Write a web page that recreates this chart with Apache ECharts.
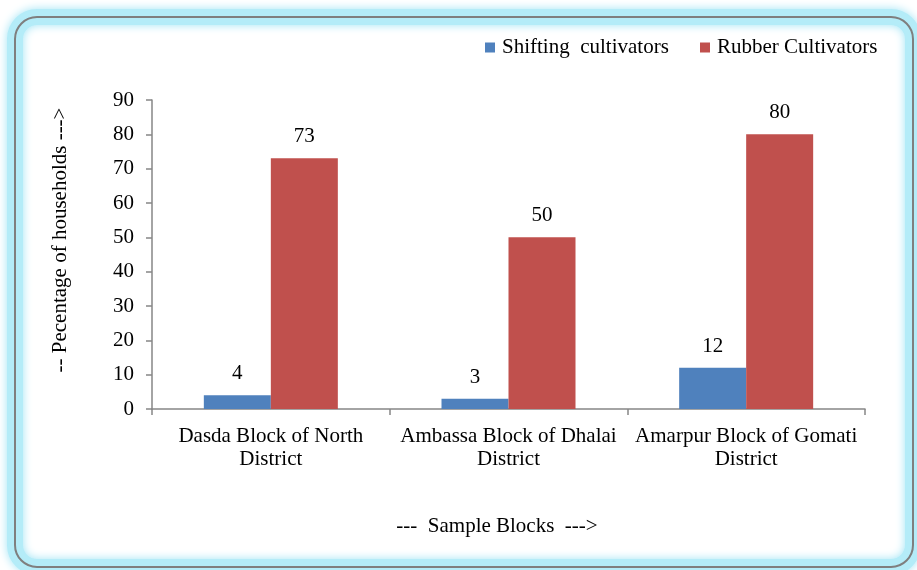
<!DOCTYPE html>
<html>
<head>
<meta charset="utf-8">
<script src="https://cdn.jsdelivr.net/npm/echarts@6/dist/echarts.min.js"></script>
<style>
  html, body { margin: 0; padding: 0; background: #ffffff; }
  #chart { width: 917px; height: 570px; }
</style>
</head>
<body>
<div id="chart"></div>
<script>
// Sample blocks surveyed
var categories = ['Dasda Block of North\nDistrict', 'Ambassa Block of Dhalai\nDistrict', 'Amarpur Block of Gomati\nDistrict'];
// Percentage of households by cultivation type
var shiftingValues = [4, 3, 12];
var rubberValues = [73, 50, 80];
var seriesNames = ['Shifting  cultivators', 'Rubber Cultivators'];
var yTicks = { min: 0, max: 90, interval: 10 };
var xTitle = '---  Sample Blocks  --->';
var yTitle = '-- Pecentage of households --->';

var font = '"Liberation Serif", "Times New Roman", serif';
var fs = 21;
var chart = echarts.init(document.getElementById('chart'));

function legendAt(left, name) {
  return {
    left: left, top: 37, padding: 0,
    itemWidth: 10, itemHeight: 10,
    icon: 'rect',
    textStyle: { fontFamily: font, fontSize: fs, color: '#000', padding: [0, 0, 0, 2] },
    data: [name]
  };
}

chart.setOption({
  animation: false,
  textStyle: { fontFamily: font, color: '#000' },
  graphic: [
    {
      type: 'rect', z: -10, silent: true,
      shape: { x: 15, y: 17, width: 898, height: 550, r: 22 },
      style: { fill: 'none', stroke: '#b4ecf8', lineWidth: 16, shadowBlur: 10, shadowColor: '#a0e4f5' }
    },
    {
      type: 'rect', z: -9, silent: true,
      shape: { x: 15, y: 17, width: 898, height: 550, r: 22 },
      style: { fill: 'none', stroke: '#7f7f7f', lineWidth: 2 }
    },
    {
      type: 'text', silent: true,
      x: 497, y: 526,
      style: { text: xTitle, font: fs + 'px ' + font, fill: '#000', align: 'center', verticalAlign: 'middle' }
    },
    {
      type: 'text', silent: true,
      x: 60, y: 240, rotation: Math.PI / 2,
      style: { text: yTitle, font: fs + 'px ' + font, fill: '#000', align: 'center', verticalAlign: 'middle' }
    }
  ],
  legend: [legendAt(485, seriesNames[0]), legendAt(700, seriesNames[1])],
  grid: { left: 152, right: 52, top: 100, bottom: 161 },
  xAxis: {
    type: 'category',
    data: categories,
    axisLine: { lineStyle: { color: '#868686', width: 1.5 } },
    axisTick: { show: true, length: 6, lineStyle: { color: '#868686', width: 1.5 } },
    axisLabel: { fontFamily: font, fontSize: fs, color: '#000', margin: 16, lineHeight: 23, interval: 0 }
  },
  yAxis: {
    type: 'value',
    min: yTicks.min, max: yTicks.max, interval: yTicks.interval,
    axisLine: { show: true, lineStyle: { color: '#868686', width: 1.5 } },
    axisTick: { show: true, inside: false, length: 6, lineStyle: { color: '#868686', width: 1.5 } },
    axisLabel: { fontFamily: font, fontSize: fs, color: '#000', margin: 18 },
    splitLine: { show: false }
  },
  series: [
    {
      name: seriesNames[0], type: 'bar', data: shiftingValues,
      barWidth: 67, barGap: '0%',
      itemStyle: { color: '#4f81bd' },
      label: { show: true, position: 'top', distance: 11, fontFamily: font, fontSize: fs, color: '#000' }
    },
    {
      name: seriesNames[1], type: 'bar', data: rubberValues,
      barWidth: 67, barGap: '0%',
      itemStyle: { color: '#c0504d' },
      label: { show: true, position: 'top', distance: 11, fontFamily: font, fontSize: fs, color: '#000' }
    }
  ]
});
</script>
</body>
</html>
